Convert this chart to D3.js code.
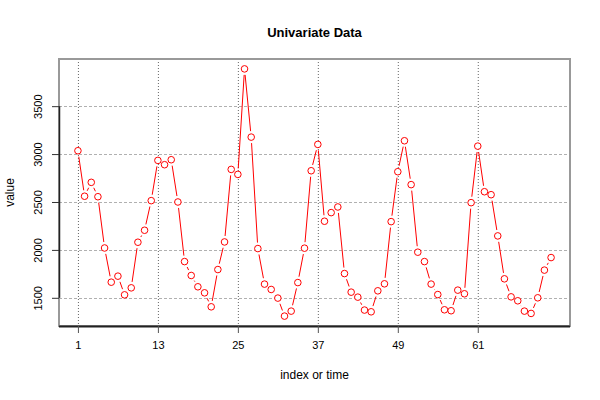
<!DOCTYPE html>
<html><head><meta charset="utf-8">
<script src="https://cdn.jsdelivr.net/npm/d3@7"></script>
<style>body{margin:0;background:#fff}svg{display:block}</style>
</head><body>
<script>
const title = "Univariate Data";
const xLabel = "index or time";
const yLabel = "value";
const values = [3035,2560,2705,2555,2020,1663,1726,1531,1604,2080,2205,2514,
  2934,2889,2941,2500,1878,1733,1615,1552,1406,1795,2083,2840,
  2788,3889,3177,2014,1643,1587,1497,1309,1361,1659,2018,2826,
  3101,2299,2389,2448,1753,1559,1507,1372,1354,1573,1646,2295,
  2816,3139,2681,1976,1878,1643,1534,1375,1365,1580,1542,2493,
  3083,2607,2576,2146,1698,1510,1469,1361,1337,1500,1789,1920];
const xTicks = [1,13,25,37,49,61];
const yTicks = [1500,2000,2500,3000,3500];

const W = 600, H = 400;
const L = 59, R = 570, T = 59, B = 326;
const svg = d3.select("body").append("svg").attr("width", W).attr("height", H);
const font = "Liberation Sans, Arial, Helvetica, sans-serif";

const idx = values.map((d,i)=>i+1);
const n = values.length;
const xr = n - 1, xpad = xr*0.04;
const x = d3.scaleLinear().domain([1 - xpad, n + xpad]).range([L, R]);
const ymin = d3.min(values), ymax = d3.max(values), yr = ymax - ymin;
const y = d3.scaleLinear().domain([ymin - yr*0.04, ymax + yr*0.04]).range([B, T]);

// grid
svg.append("g").selectAll("line").data(xTicks).join("line")
  .attr("x1", d=>x(d)+0.5).attr("x2", d=>x(d)+0.5).attr("y1", T).attr("y2", B)
  .attr("stroke", "#666").attr("stroke-width", 1).attr("stroke-dasharray", "1,2");
svg.append("g").selectAll("line").data(yTicks).join("line")
  .attr("y1", d=>Math.round(y(d))+0.5).attr("y2", d=>Math.round(y(d))+0.5).attr("x1", L).attr("x2", R)
  .attr("stroke", "#b0b0b0").attr("stroke-width", 1).attr("stroke-dasharray", "3,2");

// box
svg.append("rect").attr("x", L).attr("y", T).attr("width", R-L).attr("height", B-T)
  .attr("fill", "none").attr("stroke", "#999").attr("stroke-width", 2);

// axes
const xAxis = d3.axisBottom(x).tickValues(xTicks).tickSize(7).tickPadding(8).tickFormat(d3.format("d"));
const gx = svg.append("g").attr("transform", `translate(0,${B})`).call(xAxis);
gx.select(".domain").attr("d", `M${L},0.5H${R}`).attr("stroke", "#222").attr("stroke-width", 2);
gx.selectAll(".tick line").attr("stroke", "#555");
gx.selectAll("text").attr("font-family", font).attr("font-size", 11).attr("fill", "#000");

const yAxis = d3.axisLeft(y).tickValues(yTicks).tickSize(7).tickFormat(d3.format("d"));
const gy = svg.append("g").attr("transform", `translate(${L},0)`).call(yAxis);
gy.select(".domain").attr("d", `M0.5,${y(yTicks[0])}V${y(yTicks[yTicks.length-1])}`).attr("stroke", "#222").attr("stroke-width", 1.5);
gy.selectAll(".tick line").attr("stroke", "#333");
gy.selectAll("text").remove();
gy.selectAll(".tick").append("text")
  .attr("transform", "translate(-17,0) rotate(-90)")
  .attr("text-anchor", "middle").attr("font-family", font).attr("font-size", 11).attr("fill", "#000")
  .text(d=>d);

// lines with gaps (type = "b")
const gap = 6;
const segs = [];
for (let i = 0; i < n-1; i++) {
  const x1 = x(idx[i]), y1 = y(values[i]), x2 = x(idx[i+1]), y2 = y(values[i+1]);
  const dx = x2-x1, dy = y2-y1, len = Math.hypot(dx, dy);
  if (len > 2*gap) {
    const ux = dx/len, uy = dy/len;
    segs.push([x1+ux*gap, y1+uy*gap, x2-ux*gap, y2-uy*gap]);
  }
}
svg.append("g").selectAll("line").data(segs).join("line")
  .attr("x1", d=>d[0]).attr("y1", d=>d[1]).attr("x2", d=>d[2]).attr("y2", d=>d[3])
  .attr("stroke", "#ff0000").attr("stroke-width", 1);

svg.append("g").selectAll("circle").data(values).join("circle")
  .attr("cx", (d,i)=>x(idx[i])).attr("cy", d=>y(d)).attr("r", 3.3)
  .attr("fill", "#fff").attr("stroke", "#ff0000").attr("stroke-width", 1);

// titles
svg.append("text").attr("x", (L+R)/2).attr("y", 37).attr("text-anchor", "middle")
  .attr("font-family", font).attr("font-size", 13).attr("font-weight", "bold").text(title);
svg.append("text").attr("x", (L+R)/2).attr("y", 379).attr("text-anchor", "middle")
  .attr("font-family", font).attr("font-size", 12).text(xLabel);
svg.append("text").attr("transform", `translate(14,${(T+B)/2}) rotate(-90)`).attr("text-anchor", "middle")
  .attr("font-family", font).attr("font-size", 12).text(yLabel);
</script>
</body></html>
